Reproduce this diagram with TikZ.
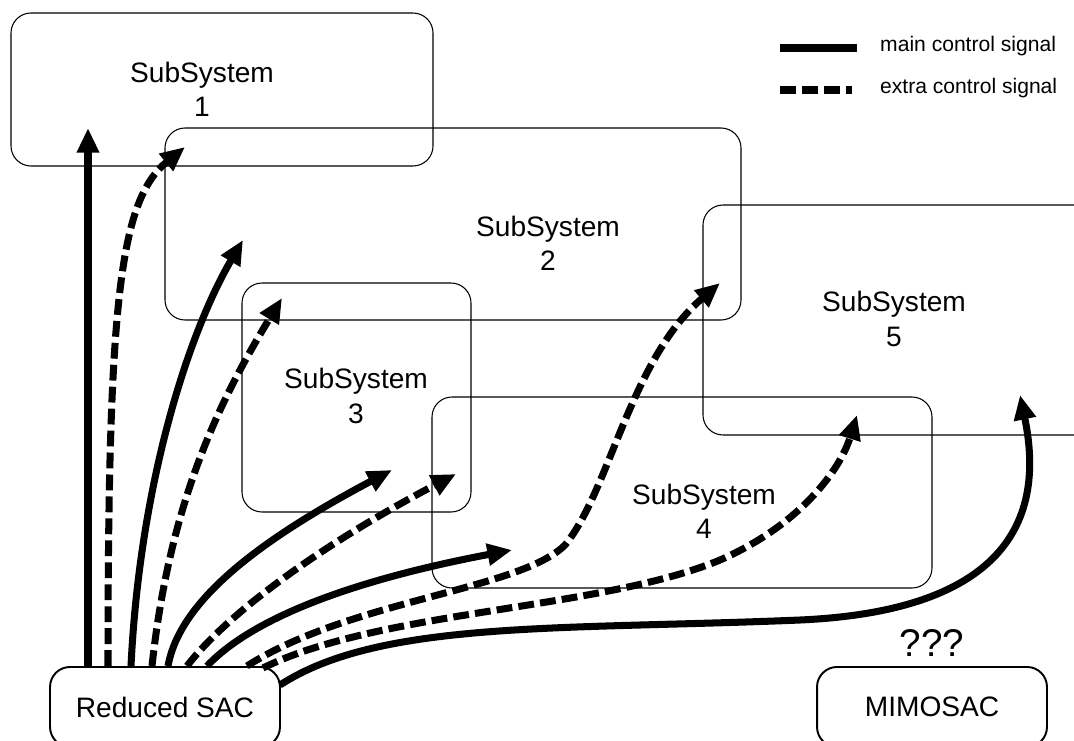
\documentclass[tikz,border=0pt]{standalone}
\usepackage{fontspec}
\setmainfont{Liberation Sans}
\usetikzlibrary{arrows.meta}

\begin{document}
\begin{tikzpicture}[x=0.02cm, y=-0.02cm,
    ssbox/.style = {line width=0.6pt, rounded corners=0.4cm},
    sslabel/.style = {align=center, font=\fontsize{16}{19.5}\selectfont},
    sacbox/.style = {draw, line width=1.1pt, rounded corners=0.4cm, minimum width=4.6cm, minimum height=1.6cm, anchor=north, font=\fontsize{16}{19}\selectfont},
    legtext/.style = {anchor=west, font=\fontsize{12}{14}\selectfont},
    mainsig/.style = {line width=4pt, -{Triangle[length=14pt,width=12pt]}},
    extrasig/.style = {mainsig, dash pattern=on 9pt off 3.5pt}]
        \useasboundingbox (0,0) rectangle (1074,740);
        \clip (0,0) rectangle (1074,740);
        \draw[ssbox] (11,13) rectangle (433,166);
        \draw[ssbox] (165,128) rectangle (741,320);
        \draw[ssbox] (242,283) rectangle (471,512);
        \draw[ssbox] (432,397) rectangle (932,588);
        \draw[ssbox] (703,205) rectangle (1100,435);
        \node[sslabel] (t1) at (202,89) {SubSystem\\1};
        \node[sslabel] (t2) at (548,243) {SubSystem\\2};
        \node[sslabel] (t3) at (356,396) {SubSystem\\3};
        \node[sslabel] (t4) at (704,511) {SubSystem\\4};
        \node[sslabel] (t5) at (894,319) {SubSystem\\5};
        \node[sacbox] (rsac) at (165,666) {Reduced SAC};
        \node[sacbox] (mimo) at (932,666) {MIMOSAC};
        \node[font=\fontsize{22}{26}\selectfont] (qq) at (932,643) {???};
        \coordinate (lm1) at (780,48);
        \coordinate (lm2) at (857,48);
        \coordinate (le1) at (780,90);
        \coordinate (le2) at (852,90);
        \draw[line width=4pt] (lm1) -- (lm2);
        \draw[line width=4pt, dash pattern=on 9pt off 3.5pt] (le1) -- (le2);
        \node[legtext] (lmt) at (874,46) {main control signal};
        \node[legtext] (let) at (874,88) {extra control signal};
        \coordinate (s1) at (88,666);   \coordinate (e1) at (88,128);
        \coordinate (s2) at (108,666);  \coordinate (e2) at (185,147);
        \coordinate (s3) at (131,666);  \coordinate (e3) at (243,240);
        \coordinate (s4) at (152,666);  \coordinate (e4) at (282,298);
        \coordinate (s5) at (168,666);  \coordinate (e5) at (392,470);
        \coordinate (s6) at (187,666);  \coordinate (e6) at (456,474);
        \coordinate (s7) at (207,666);  \coordinate (e7) at (512,550);
        \coordinate (s8) at (247,666);  \coordinate (e8) at (720,283);
        \coordinate (s9) at (263,668);  \coordinate (e9) at (857,415);
        \coordinate (s10) at (280,685); \coordinate (e10) at (1020,395);
        \draw[mainsig] (s1) -- (e1);
        \draw[extrasig] (s2) .. controls (108,300) and (120,200) .. (e2);
        \draw[mainsig] (s3) .. controls (140,480) and (190,330) .. (e3);
        \draw[extrasig] (s4) .. controls (170,500) and (220,400) .. (e4);
        \draw[mainsig] (s5) .. controls (180,600) and (260,540) .. (e5);
        \draw[extrasig] (s6) .. controls (230,610) and (330,540) .. (e6);
        \draw[mainsig] (s7) .. controls (260,610) and (380,575) .. (e7);
        \draw[extrasig] (s8) .. controls (350,600) and (520,590) .. (565,545) .. controls (610,490) and (630,360) .. (e8);
        \draw[extrasig] (s9) .. controls (380,610) and (600,610) .. (720,560) .. controls (800,525) and (840,470) .. (e9);
        \draw[mainsig] (s10) .. controls (380,620) and (560,630) .. (800,620) .. controls (980,612) and (1050,540) .. (e10);
      \end{tikzpicture}
\end{document}
